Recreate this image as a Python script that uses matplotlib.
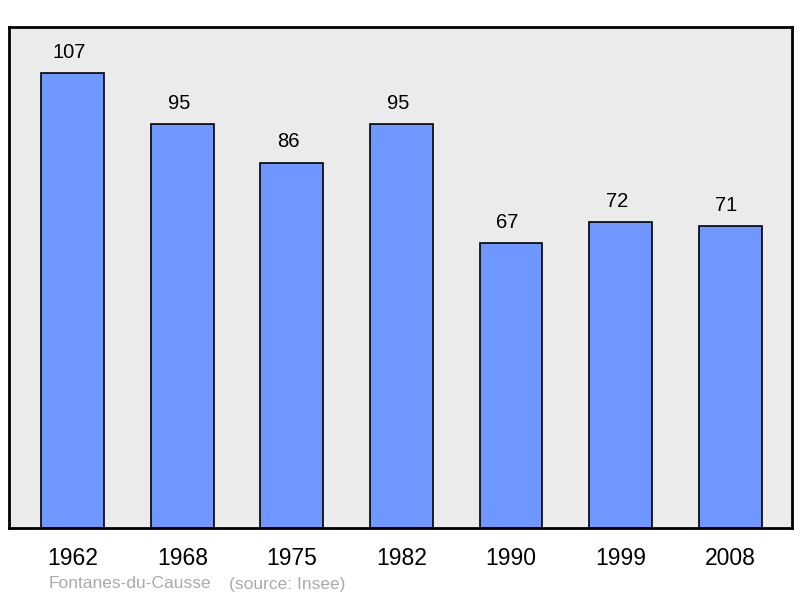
import matplotlib
matplotlib.use('Agg')
from matplotlib import pyplot as plt

years = ['1962', '1968', '1975', '1982', '1990', '1999', '2008']
population = [107, 95, 86, 95, 67, 72, 71]

plt.rcParams['font.family'] = ['Liberation Sans', 'DejaVu Sans']

fig = plt.figure(figsize=(8, 5.98), dpi=100)
ax = fig.add_axes([9 / 800, 1 - 528 / 598, 783 / 800, 501 / 598])
ax.set_facecolor('#ebebeb')

x = range(len(years))
ax.bar(x, population, width=0.575, color='#7096ff', edgecolor='black', linewidth=1.2, zorder=2)
for xi, v in zip(x, population):
    ax.annotate(str(v), (xi, v), xytext=(-2.5, 8), textcoords='offset points',
                ha='center', va='bottom', fontsize=14.5)

ax.set_xlim(-0.584, 6.566)
ax.set_ylim(0, 117.9)
ax.set_yticks([])
ax.set_xticks(list(x))
ax.set_xticklabels(years, fontsize=16.5)
ax.tick_params(axis='x', length=0, pad=14)
for s in ax.spines.values():
    s.set_linewidth(2)

fig.text(49 / 800, 1 - 584 / 598, 'Fontanes-du-Causse', color='#aaaaaa', fontsize=12.5, va='center')
fig.text(229 / 800, 1 - 584 / 598, '(source: Insee)', color='#aaaaaa', fontsize=12.5, va='center')

fig.savefig('out.png', dpi=100)
